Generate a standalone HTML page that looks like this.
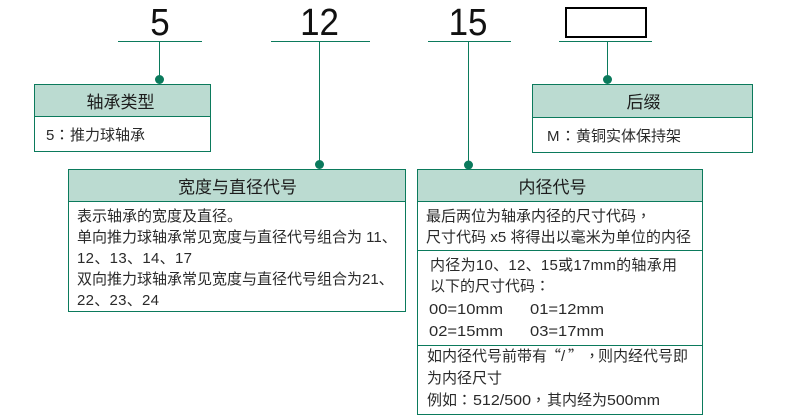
<!DOCTYPE html>
<html>
<head>
<meta charset="utf-8">
<style>
html,body{margin:0;padding:0;background:#fff;width:790px;height:420px;overflow:hidden}
svg{display:block}
text{font-family:"Liberation Sans","Noto Sans CJK SC",sans-serif;fill:#2a2a2a}
.t{font-size:17px;text-anchor:middle;fill:#1c1c1c}
.b{font-size:15px}
.n{font-size:38px;text-anchor:middle;fill:#111}
.p{font-family:"Noto Sans CJK TC",sans-serif}
.q{font-family:"Noto Sans CJK SC",sans-serif}
</style>
</head>
<body>
<svg width="790" height="420" viewBox="0 0 790 420" xmlns="http://www.w3.org/2000/svg">
<g stroke="#0b7a5c" stroke-width="1" fill="none" shape-rendering="crispEdges">
<path d="M118 41.5H202M159.5 41V79"/>
<path d="M271 41.5H370M319.5 41V165"/>
<path d="M428 41.5H511M468.5 41V165"/>
<path d="M559 41.5H652M607.5 41V79"/>
</g>
<rect x="566" y="8" width="80" height="29" fill="#fff" stroke="#000" stroke-width="2"/>
<g fill="#0b7a5c">
<circle cx="159.5" cy="79.5" r="4.5"/>
<circle cx="319.5" cy="164.5" r="4.5"/>
<circle cx="468.5" cy="165" r="4.5"/>
<circle cx="607.5" cy="79.5" r="4.5"/>
</g>
<g stroke="#0b7a5c" stroke-width="1" shape-rendering="crispEdges">
<rect x="34.5" y="84.5" width="176" height="67" fill="#fff"/>
<rect x="34.5" y="84.5" width="176" height="32" fill="#bbdbd1"/>
<rect x="532.5" y="84.5" width="220" height="68" fill="#fff"/>
<rect x="532.5" y="84.5" width="220" height="33" fill="#bbdbd1"/>
<rect x="68.5" y="169.5" width="337" height="142" fill="#fff"/>
<rect x="68.5" y="169.5" width="337" height="32" fill="#bbdbd1"/>
<rect x="417.5" y="169.5" width="285" height="245" fill="#fff"/>
<rect x="417.5" y="169.5" width="285" height="32" fill="#bbdbd1"/>
<path d="M417 250.5H703M417 345.5H703" fill="none"/>
</g>
<text class="n" transform="translate(160,35) scale(.92,1)">5</text>
<text class="n" transform="translate(319.5,35) scale(.92,1)">12</text>
<text class="n" transform="translate(468,35) scale(.92,1)">15</text>
<text class="t" x="120.5" y="108">轴承类型</text>
<text class="t" x="643.5" y="108">后缀</text>
<text class="t" x="237.5" y="193">宽度与直径代号</text>
<text class="t" x="552.5" y="193">内径代号</text>
<text class="b" x="46" y="140">5<tspan class="p" x="54.5">：</tspan><tspan x="70">推力球轴承</tspan></text>
<text class="b" x="547" y="141">M<tspan class="p" x="560.5">：</tspan><tspan x="576">黄铜实体保持架</tspan></text>
<text class="b" x="77" y="221">表示轴承的宽度及直径。</text>
<text class="b" x="77" y="242">单向推力球轴承常见宽度与直径代号组合为 11、</text>
<text class="b" x="77" y="263" textLength="115">12、13、14、17</text>
<text class="b" x="77" y="284">双向推力球轴承常见宽度与直径代号组合为21、</text>
<text class="b" x="77" y="305" textLength="82">22、23、24</text>
<text class="b" x="426" y="221">最后两位为轴承内径的尺寸代码<tspan class="p">，</tspan></text>
<text class="b" x="426" y="242" textLength="265">尺寸代码 x5 将得出以毫米为单位的内径</text>
<text class="b" x="430" y="270" textLength="247">内径为10、12、15或17mm的轴承用</text>
<text class="b" x="430" y="291">以下的尺寸代码<tspan class="p">：</tspan></text>
<text class="b" x="429" y="314" textLength="74" lengthAdjust="spacingAndGlyphs">00=10mm</text>
<text class="b" x="530" y="314" textLength="74" lengthAdjust="spacingAndGlyphs">01=12mm</text>
<text class="b" x="429" y="336" textLength="74" lengthAdjust="spacingAndGlyphs">02=15mm</text>
<text class="b" x="530" y="336" textLength="74" lengthAdjust="spacingAndGlyphs">03=17mm</text>
<text class="b" x="427" y="361">如内径代号前带有<tspan class="q" x="546">“</tspan><tspan x="561">/</tspan><tspan class="q" x="568">”</tspan><tspan class="p" x="584.5">，</tspan><tspan x="598">则内经代号即</tspan></text>
<text class="b" x="427" y="383">为内径尺寸</text>
<text class="b" x="427" y="405">例如<tspan class="p" x="457">：</tspan></text>
<text class="b" x="473" y="405" textLength="58" lengthAdjust="spacingAndGlyphs">512/500</text>
<text class="b p" x="531" y="405">，</text>
<text class="b" x="547" y="405">其内经为</text>
<text class="b" x="607" y="405" textLength="53" lengthAdjust="spacingAndGlyphs">500mm</text>
</svg>
</body>
</html>
